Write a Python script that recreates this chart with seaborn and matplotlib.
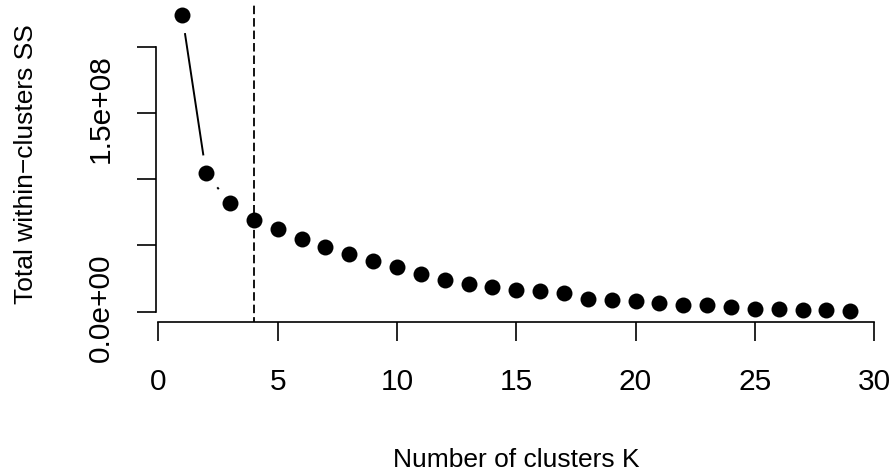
import numpy as np
import pandas as pd
import matplotlib
matplotlib.use("Agg")
import matplotlib.pyplot as plt
import matplotlib.transforms as mtransforms
import seaborn as sns

# Elbow curve: total within-cluster sum of squares for K = 1..29
k_values = list(range(1, 30))
wss = [2.237e8, 1.045e8, 8.18e7, 6.94e7, 6.22e7, 5.49e7, 4.88e7, 4.35e7,
       3.83e7, 3.37e7, 2.82e7, 2.37e7, 2.09e7, 1.84e7, 1.62e7, 1.54e7,
       1.43e7, 9.6e6, 8.8e6, 8.1e6, 6.3e6, 5.3e6, 5.1e6, 3.5e6, 1.8e6,
       1.8e6, 1.1e6, 1.1e6, 0.8e6]
chosen_k = 4

x_ticks = [0, 5, 10, 15, 20, 25, 30]
y_ticks = [0, 5e7, 1e8, 1.5e8, 2e8]
y_tick_labels = ["0.0e+00", "", "", "1.5e+08", ""]

df = pd.DataFrame({"k": k_values, "wss": wss})

sns.set_style("white")
plt.rcParams["font.family"] = ["Liberation Sans", "DejaVu Sans"]
plt.rcParams["text.color"] = "black"
plt.rcParams["axes.labelcolor"] = "black"

W, H, DPI = 896, 475, 100
fig = plt.figure(figsize=(W / DPI, H / DPI), dpi=DPI)
left, right, top, bottom = 155.5, 877.0, 3.5, 322.4
ax = fig.add_axes([left / W, (H - bottom) / H, (right - left) / W, (bottom - top) / H])

# R-style 4% padding of the data range
xr = max(k_values) - min(k_values)
yr = max(wss) - min(wss)
ax.set_xlim(min(k_values) - 0.04 * xr, max(k_values) + 0.04 * xr)
ax.set_ylim(min(wss) - 0.04 * yr, max(wss) + 0.04 * yr)

# connecting segments with a gap around each point (type = "b")
gap_px = 18.0
pts = ax.transData.transform(np.column_stack([df["k"], df["wss"]]))
inv = ax.transData.inverted()
for p0, p1 in zip(pts[:-1], pts[1:]):
    d = p1 - p0
    length = np.hypot(*d)
    if length <= 2 * gap_px:
        continue
    u = d / length
    a = inv.transform(p0 + u * gap_px)
    b = inv.transform(p1 - u * gap_px)
    ax.plot([a[0], b[0]], [a[1], b[1]], color="black", lw=1.4,
            solid_capstyle="butt", zorder=2)

sns.scatterplot(data=df, x="k", y="wss", ax=ax, s=132, color="black",
                linewidth=0, zorder=3)

ax.axvline(chosen_k, color="black", lw=1.3, linestyle=(2.0, (4.7, 2.2)),
           zorder=2)

for side in ["top", "right"]:
    ax.spines[side].set_visible(False)
for side in ["left", "bottom"]:
    ax.spines[side].set_color("black")
    ax.spines[side].set_linewidth(1.2)
ax.spines["bottom"].set_bounds(x_ticks[0], x_ticks[-1])
ax.spines["left"].set_bounds(y_ticks[0], y_ticks[-1])

ax.set_xticks(x_ticks)
ax.set_xticklabels([str(t) for t in x_ticks])
ax.set_yticks(y_ticks)
ax.set_yticklabels(y_tick_labels, rotation=90, va="center")
ax.tick_params(axis="both", direction="out", length=14, width=1.2,
               color="black", labelsize=21.5, labelcolor="black",
               bottom=True, left=True)
ax.tick_params(axis="x", pad=18.5)
ax.tick_params(axis="y", pad=15)
shift_up = mtransforms.ScaledTranslation(0, 4 / DPI, fig.dpi_scale_trans)
for lbl in ax.get_yticklabels():
    lbl.set_transform(lbl.get_transform() + shift_up)
ax.set_xlabel("")
ax.set_ylabel("")
ax.grid(False)

fig.text(516 / W, (H - 467) / H, "Number of clusters K", fontsize=19,
         ha="center", va="baseline", color="black")
fig.text(33 / W, (H - 164) / H, "Total within\u2212clusters SS", fontsize=19,
         rotation=90, rotation_mode="anchor", ha="center", va="baseline",
         color="black")

fig.savefig("out.png", dpi=DPI, facecolor="white")
